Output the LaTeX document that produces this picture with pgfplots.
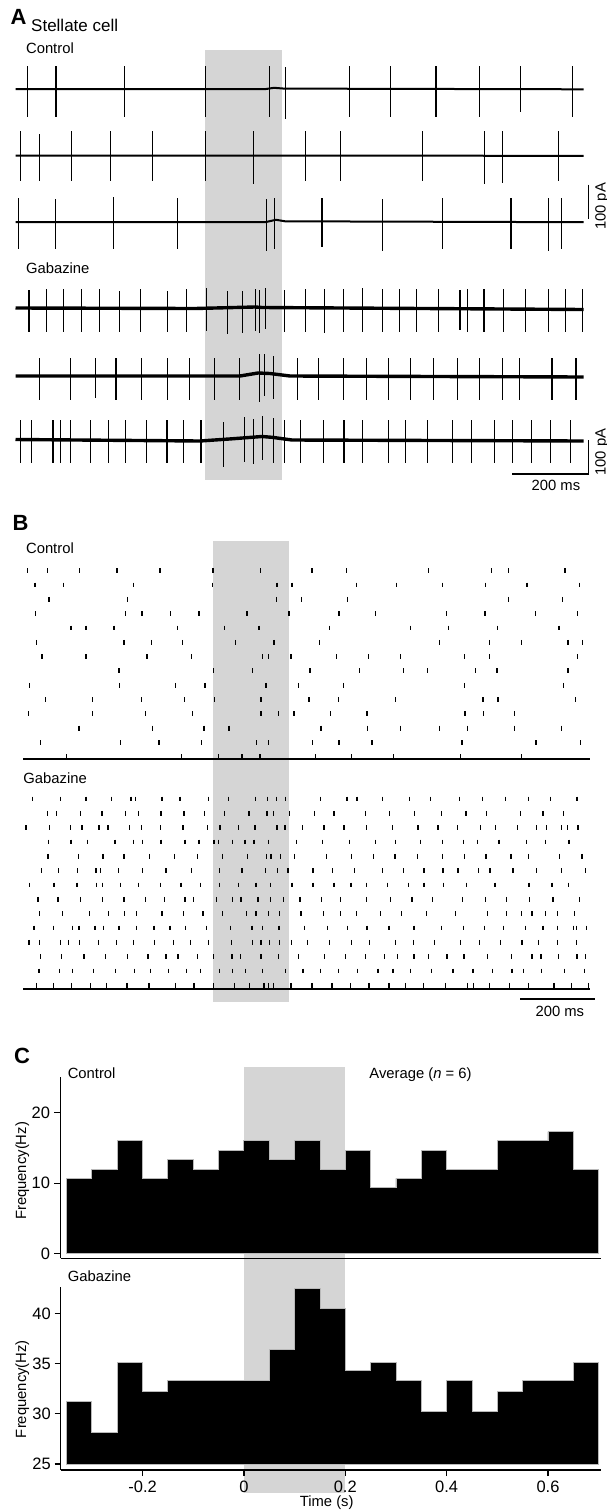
\documentclass[border=0pt]{standalone}
\usepackage{pgfplots}
\pgfplotsset{compat=1.18}
\usepackage{fontspec}
\setmainfont{Liberation Sans}
\definecolor{stimgray}{gray}{0.835}
\newcommand{\lab}{\fontsize{14.8}{17}\selectfont}
\newcommand{\tlab}{\fontsize{16.5}{18}\selectfont}
\pgfplotsset{
  spikes/.style={draw=none, mark=none,
    error bars/y dir=both, error bars/y explicit, error bars/error mark=none,
    error bars/error bar style={draw=black, line width=1.1pt}},
  rast/.style={only marks, mark=|, mark size=2.4pt, black, mark options={line width=1.25pt}},
}
\begin{document}
\begin{tikzpicture}
\useasboundingbox (0pt,0pt) rectangle (606pt,-1510pt);
% light-stimulus shading
\fill[stimgray] (204.9pt,-50pt) rectangle (282.2pt,-480pt);
\fill[stimgray] (212.7pt,-541pt) rectangle (289pt,-1002pt);
\fill[stimgray] (243.9pt,-1066.7pt) rectangle (345.2pt,-1493pt);

% ---------------- Panel A : traces ----------------
\begin{axis}[at={(15.5pt,-50pt)}, anchor=north west, scale only axis,
  width=568.2pt, height=430pt, xmin=15.5, xmax=583.7, ymin=-480, ymax=-50,
  hide axis, clip=false]
% baselines (control)
\addplot[black, line width=2pt] coordinates {(15.5,-89) (266,-89) (274,-87.8) (284,-88.6) (583.7,-89.3)};
\addplot[black, line width=2pt] coordinates {(15.5,-155.5) (583.7,-155.8)};
\addplot[black, line width=2pt] coordinates {(15.5,-222) (266,-222) (276,-219.8) (285,-221.3) (583.7,-222.2)};
% baselines (gabazine)
\addplot[black, line width=3.4pt] coordinates {(15.5,-308) (195,-308.5) (255,-307) (262,-307.5) (583.7,-309.5)};
\addplot[black, line width=3.4pt] coordinates {(15.5,-376) (240,-376) (258,-373) (270,-373.5) (290,-376) (583.7,-377)};
\addplot[black, line width=3.4pt] coordinates {(15.5,-439.5) (200,-441) (232,-438.8) (262,-436.5) (272,-437.3) (292,-440) (583.7,-441)};
% spikes: time(px)  baseline  up  down
\addplot[spikes] table[x=t, y=b, y error plus=u, y error minus=d] {
t b u d
27.1 -89 23.5 28
56.0 -89 23.5 28
124.9 -89 23.5 28
205.3 -89 23.5 28
269.4 -89 23.5 28
285.3 -89 22 29.5
349.8 -89 23.5 28
390.4 -89 23.5 28
436.0 -89 23.5 28
479.3 -89 23.5 28
520.3 -89 23 23
572.9 -89 23.5 28
};
\addplot[spikes] table[x=t, y=b, y error plus=u, y error minus=d] {
t b u d
20.1 -155.5 25 25
39.4 -155.5 22 25
71.5 -155.5 25 25
110.2 -155.5 25 25
152.7 -155.5 25 25
205.6 -155.5 25 25
253.2 -155.5 25 28
305.4 -155.5 25 25
340.2 -155.5 25 25
422.5 -155.5 25 25
484.3 -155.5 25 28
502.5 -155.5 25 27
558.6 -155.5 25 25
};
\addplot[spikes] table[x=t, y=b, y error plus=u, y error minus=d] {
t b u d
18.2 -222 24 27
55.3 -222 23 27
113.3 -222 25 27
177.4 -222 24 27
266.3 -222 23 29
274.4 -222 24 27
322.0 -222 24 25
382.7 -222 23 29
442.6 -222 24 27
511.0 -222 24 27
548.5 -222 24 29
561.7 -222 24 27
};
\addplot[spikes] table[x=t, y=b, y error plus=u, y error minus=d] {
t b u d
29.0 -308.5 19 23
46.4 -308.5 20 23
63.8 -308.5 20 23
81.9 -308.5 20 23
99.7 -308.5 20 23
119.8 -308.5 18 23
140.3 -308.5 20 23
167.4 -308.5 18 23
186.7 -308.5 20 23
206.8 -308.5 21 22
227.3 -308.5 18 25
242.8 -308.5 18 24
255.5 -308.5 20 22
259.8 -308.5 19 24
265.9 -308.5 21 20
284.1 -308.5 19 23
305.4 -308.5 20 23
324.7 -308.5 20 24
343.3 -308.5 20 23
362.2 -308.5 21 23
382.7 -308.5 20 23
399.3 -308.5 20 23
416.7 -308.5 20 23
438.7 -308.5 20 23
460.0 -308.5 19 21
467.7 -308.5 20 23
484.0 -308.5 20 23
503.3 -308.5 20 23
525.7 -308.5 20 23
548.1 -308.5 20 23
565.5 -308.5 20 23
582.5 -308.5 20 23
};
\addplot[spikes] table[x=t, y=b, y error plus=u, y error minus=d] {
t b u d
39.8 -376 18.5 24
70.7 -376 18.5 24
95.5 -376 18.5 22
116.0 -376 18.5 24
141.9 -376 18.5 24
167.4 -376 18.5 24
189.4 -376 18.5 24
214.5 -376 18.5 24
239.7 -376 18.5 24
259.8 -376 22 26
264.8 -376 22 20
273.7 -376 20 23
297.6 -376 18.5 24
318.9 -376 18.5 24
343.3 -376 18.5 24
366.1 -376 18.5 24
388.5 -376 18.5 24
410.5 -376 18.5 24
433.7 -376 18.5 24
457.3 -376 18.5 24
479.3 -376 18.5 24
502.5 -376 18.5 24
519.9 -376 18.5 24
552.0 -376 18.5 24
576.0 -376 18.5 24
};
\addplot[spikes] table[x=t, y=b, y error plus=u, y error minus=d] {
t b u d
20.1 -440 20 22.7
31.7 -440 20 22.7
53.0 -440 20 22.7
60.7 -440 20 22.7
70.7 -440 20 22.7
90.1 -440 20 22.7
108.2 -440 20 22.7
125.6 -440 20 22.7
146.9 -440 20 22.7
167.0 -440 20 22.7
183.2 -440 20 22.7
201.0 -440 20 22.7
223.4 -440 18 27
244.3 -440 23 22
253.2 -440 21 24
262.9 -440 24 20
273.3 -440 22 22.7
284.1 -440 20 22.7
300.7 -440 20 22.7
323.9 -440 20 22.7
344.0 -440 20 22.7
362.2 -440 20 22.7
388.5 -440 20 22.7
405.9 -440 20 22.7
427.1 -440 20 22.7
452.3 -440 20 22.7
471.6 -440 20 22.7
494.8 -440 20 22.7
512.9 -440 20 22.7
531.5 -440 20 22.7
550.8 -440 20 22.7
570.2 -440 20 22.7
};
\end{axis}
% scale bars A
\draw[line width=1.4pt] (588.5pt,-184.5pt) -- (588.5pt,-218.5pt);
\draw[line width=1.4pt] (512.2pt,-474pt) -- (588.5pt,-474pt) -- (588.5pt,-440pt);

% ---------------- Panel B : rasters ----------------
\begin{axis}[at={(23.3pt,-556.4pt)}, anchor=north west, scale only axis,
  width=566.4pt, height=202.9pt, xmin=23.3, xmax=589.7, ymin=-14.18, ymax=0,
  axis x line*=bottom, axis y line=none, xtick=\empty, ytick=\empty,
  axis line style={line width=1.8pt,-}, clip=false]
\addplot[rast] coordinates {(27.7,-1) (47.3,-1) (79.3,-1) (117,-1) (160,-1) (213,-1) (260.3,-1) (312,-1) (346.7,-1) (428.7,-1) (491.3,-1) (508.7,-1) (565,-1)};
\addplot[rast] coordinates {(35,-2) (63.3,-2) (133.3,-2) (212.7,-2) (277,-2) (292,-2) (356.7,-2) (396.7,-2) (442.3,-2) (485.3,-2) (527,-2) (579.3,-2)};
\addplot[rast] coordinates {(49,-3) (127.7,-3) (276.3,-3) (301.7,-3) (347.3,-3) (508.7,-3) (562.3,-3)};
\addplot[rast] coordinates {(35.7,-4) (125.3,-4) (142,-4) (170.7,-4) (199,-4) (247,-4) (289,-4) (339,-4) (375.3,-4) (446.7,-4) (485,-4) (535.3,-4) (577.3,-4)};
\addplot[rast] coordinates {(71,-5) (86,-5) (114,-5) (177.3,-5) (224.3,-5) (259,-5) (329.7,-5) (410.3,-5) (448.3,-5) (497.7,-5) (559,-5)};
\addplot[rast] coordinates {(36.7,-6) (124,-6) (151.7,-6) (182.7,-6) (235.7,-6) (274,-6) (319.3,-6) (439.7,-6) (489.7,-6) (521.7,-6) (568,-6) (582.3,-6)};
\addplot[rast] coordinates {(42,-7) (86,-7) (147,-7) (191.7,-7) (262.3,-7) (268.7,-7) (291,-7) (336.7,-7) (368.3,-7) (400.7,-7) (464.3,-7) (489.7,-7) (577.3,-7)};
\addplot[rast] coordinates {(119,-8) (213.3,-8) (252.7,-8) (310,-8) (359.7,-8) (403.3,-8) (427.7,-8) (475.3,-8) (497,-8) (568,-8)};
\addplot[rast] coordinates {(29.7,-9) (119.7,-9) (175.3,-9) (205,-9) (266,-9) (298.3,-9) (343.3,-9) (464.3,-9) (563.7,-9)};
\addplot[rast] coordinates {(45.3,-10) (92.7,-10) (141.7,-10) (184.3,-10) (214.7,-10) (261,-10) (309,-10) (338.7,-10) (395.7,-10) (483,-10) (498,-10) (575.3,-10)};
\addplot[rast] coordinates {(28.7,-11) (92.3,-11) (145.3,-11) (192.7,-11) (261,-11) (278.3,-11) (294,-11) (330.7,-11) (367,-11) (465,-11) (483.3,-11) (514.3,-11)};
\addplot[rast] coordinates {(79,-12) (152.3,-12) (204,-12) (229,-12) (321,-12) (367.3,-12) (400.7,-12) (439.7,-12) (467.7,-12) (514.3,-12) (561.7,-12)};
\addplot[rast] coordinates {(40.3,-13) (120.7,-13) (159,-13) (201.3,-13) (256.3,-13) (268.3,-13) (312.3,-13) (339,-13) (372,-13) (462,-13) (536,-13) (580.3,-13)};
\addplot[rast] coordinates {(66.7,-14) (181.7,-14) (218.3,-14) (242,-14) (260,-14) (315.7,-14) (351.7,-14) (393.7,-14) (460.7,-14) (521.7,-14)};
\end{axis}

\begin{axis}[at={(23.3pt,-784.7pt)}, anchor=north west, scale only axis,
  width=566.4pt, height=204.6pt, xmin=23.3, xmax=589.7, ymin=-14.28, ymax=0,
  axis x line*=bottom, axis y line=none, xtick=\empty, ytick=\empty,
  axis line style={line width=1.8pt,-}, clip=false]
\addplot[rast] coordinates {(32.7,-1) (60.3,-1) (86,-1) (111.7,-1) (131,-1) (135.3,-1) (162,-1) (180,-1) (208.7,-1) (228.7,-1) (255.7,-1) (267.3,-1) (276.3,-1) (285.7,-1) (320.3,-1) (347,-1) (357,-1) (382.3,-1) (409.7,-1) (430.7,-1) (459.7,-1) (482.3,-1) (505.7,-1) (528.3,-1) (550.3,-1) (577,-1)};
\addplot[rast] coordinates {(47.7,-2) (56.7,-2) (80.3,-2) (102,-2) (125.7,-2) (138.3,-2) (161,-2) (184,-2) (204.7,-2) (224.3,-2) (249,-2) (267,-2) (273.3,-2) (289.3,-2) (314.7,-2) (334,-2) (365.7,-2) (389.7,-2) (414.7,-2) (441.7,-2) (466,-2) (486.3,-2) (520.3,-2) (543,-2) (563.7,-2)};
\addplot[rast] coordinates {(26,-3) (49.3,-3) (70.3,-3) (82,-3) (99,-3) (108,-3) (129.3,-3) (141.7,-3) (160.7,-3) (183,-3) (207.3,-3) (220,-3) (238.7,-3) (255,-3) (277,-3) (285,-3) (302.3,-3) (324,-3) (344,-3) (366.7,-3) (392.3,-3) (418,-3) (438,-3) (457.3,-3) (480.7,-3) (495.7,-3) (517.3,-3) (536.3,-3) (546.3,-3) (561.3,-3) (567.3,-3) (578,-3)};
\addplot[rast] coordinates {(48.7,-4) (71,-4) (87.7,-4) (115,-4) (133.7,-4) (142.7,-4) (161,-4) (185,-4) (199,-4) (214,-4) (218.3,-4) (232.7,-4) (245,-4) (254,-4) (268.7,-4) (296.7,-4) (322.3,-4) (349.7,-4) (375.7,-4) (395.7,-4) (420.3,-4) (442.3,-4) (463.3,-4) (477.7,-4) (499,-4) (526.7,-4) (545.7,-4) (569,-4)};
\addplot[rast] coordinates {(48,-5) (78.7,-5) (103,-5) (124,-5) (149.7,-5) (174.3,-5) (197.7,-5) (222.7,-5) (247.7,-5) (266.7,-5) (271,-5) (280.7,-5) (294.3,-5) (326.3,-5) (351.7,-5) (373.3,-5) (395,-5) (417.3,-5) (442.3,-5) (464.3,-5) (486,-5) (511,-5) (528.3,-5) (559.3,-5) (582,-5)};
\addplot[rast] coordinates {(41.7,-6) (58.7,-6) (77.7,-6) (96,-6) (100.3,-6) (118.7,-6) (142.3,-6) (166,-6) (191.7,-6) (219.7,-6) (242,-6) (265.7,-6) (277.7,-6) (288,-6) (313,-6) (332.7,-6) (354.7,-6) (382.3,-6) (403.7,-6) (424,-6) (443,-6) (458,-6) (478.7,-6) (490,-6) (513,-6) (536.3,-6) (561.3,-6) (585.7,-6)};
\addplot[rast] coordinates {(29.3,-7) (54,-7) (77,-7) (96.7,-7) (102.3,-7) (120.7,-7) (138.3,-7) (160.7,-7) (181,-7) (200.7,-7) (219.3,-7) (238.7,-7) (256,-7) (270.3,-7) (292,-7) (313,-7) (334,-7) (351,-7) (366.3,-7) (387.3,-7) (408.3,-7) (424,-7) (443.3,-7) (466.7,-7) (495,-7) (529,-7) (552,-7) (568.7,-7)};
\addplot[rast] coordinates {(38,-8) (58,-8) (80.3,-8) (102.3,-8) (124,-8) (145.3,-8) (164.3,-8) (185,-8) (193.3,-8) (216.7,-8) (232.3,-8) (241,-8) (258,-8) (270.7,-8) (283.3,-8) (300,-8) (321.3,-8) (340.7,-8) (366.3,-8) (390.7,-8) (412,-8) (432.3,-8) (462.7,-8) (485.7,-8) (506.3,-8) (529.3,-8) (553,-8) (579.3,-8)};
\addplot[rast] coordinates {(39.7,-9) (62.7,-9) (89.3,-9) (108.3,-9) (124.7,-9) (136.7,-9) (162,-9) (183.3,-9) (203,-9) (222.7,-9) (246.7,-9) (256,-9) (268.3,-9) (279.3,-9) (301,-9) (323.7,-9) (340.3,-9) (356.3,-9) (380.3,-9) (401.3,-9) (426.7,-9) (455.3,-9) (487.3,-9) (506.3,-9) (521.3,-9) (532,-9) (545.3,-9) (557.3,-9) (574.7,-9)};
\addplot[rast] coordinates {(34,-10) (53.3,-10) (72.3,-10) (79,-10) (95,-10) (103.7,-10) (119,-10) (136.3,-10) (154,-10) (170,-10) (185.7,-10) (206.3,-10) (230.3,-10) (252,-10) (262.3,-10) (279,-10) (304.7,-10) (327.3,-10) (347.3,-10) (367,-10) (389,-10) (414,-10) (441.7,-10) (463.3,-10) (484.3,-10) (503.7,-10) (525.3,-10) (543,-10) (557.3,-10) (573.7,-10) (576.3,-10) (586.3,-10)};
\addplot[rast] coordinates {(29,-11) (39.7,-11) (60.3,-11) (68.7,-11) (79.3,-11) (98.7,-11) (116.7,-11) (133.7,-11) (154.3,-11) (173.7,-11) (190.3,-11) (208.3,-11) (231.3,-11) (252.3,-11) (261,-11) (269.7,-11) (279.3,-11) (291.7,-11) (307.7,-11) (329.7,-11) (351.3,-11) (369.7,-11) (395.3,-11) (413.3,-11) (434.7,-11) (460.7,-11) (479.7,-11) (500.7,-11) (522,-11) (538.7,-11) (557.3,-11) (576.3,-11)};
\addplot[rast] coordinates {(40.7,-12) (61.3,-12) (84,-12) (105.3,-12) (127.3,-12) (148,-12) (166,-12) (178,-12) (197.7,-12) (213.7,-12) (232,-12) (240.7,-12) (261,-12) (278.3,-12) (298.7,-12) (324.3,-12) (345.7,-12) (365.7,-12) (384.7,-12) (397.7,-12) (414,-12) (428.7,-12) (447,-12) (464,-12) (487.3,-12) (511.3,-12) (532,-12) (541,-12) (558.3,-12) (577,-12) (585.7,-12)};
\addplot[rast] coordinates {(39,-13) (59.3,-13) (72.3,-13) (93.3,-13) (115.7,-13) (134.3,-13) (150.3,-13) (168.3,-13) (186.7,-13) (200.7,-13) (219.7,-13) (232.3,-13) (245.3,-13) (262.3,-13) (285.7,-13) (303,-13) (320.3,-13) (338.3,-13) (357.3,-13) (378,-13) (393,-13) (410.7,-13) (431.7,-13) (453,-13) (473,-13) (492.3,-13) (512,-13) (523.7,-13) (541.7,-13) (564.7,-13) (584.7,-13)};
\addplot[rast] coordinates {(36.3,-14) (53.7,-14) (71.3,-14) (90.3,-14) (106.3,-14) (127,-14) (149,-14) (175.7,-14) (194,-14) (213.3,-14) (234.7,-14) (249.7,-14) (264,-14) (268.7,-14) (273.7,-14) (291,-14) (312,-14) (332,-14) (350.7,-14) (369,-14) (389,-14) (405.3,-14) (423.7,-14) (445.7,-14) (467.7,-14) (473.3,-14) (489.7,-14) (509.7,-14) (528.3,-14) (554,-14) (571.3,-14) (588.7,-14)};
\end{axis}
\draw[line width=1.4pt] (520pt,-999pt) -- (595.3pt,-999pt);

% ---------------- Panel C : histograms ----------------
\begin{axis}[at={(60.7pt,-1076.7pt)}, anchor=north west, scale only axis,
  width=540.3pt, height=181.6pt, xmin=-0.3616, xmax=0.7046, ymin=-0.65, ymax=25.1,
  axis x line*=bottom, axis y line*=left, axis line style={line width=1.3pt,-},
  tick align=outside, major tick length=6.6pt, tick style={line width=1.2pt, black},
  xtick=\empty, ytick={0,10,20}, yticklabels={0,10,20},
  yticklabel style={font=\tlab, anchor=east, inner sep=0pt, xshift=-3.8pt},
  ylabel={Frequency(Hz)},
  ylabel style={font=\lab, at={(axis description cs:-0.064,0.481)}, anchor=base}]
\addplot[const plot, fill=black, draw=gray!55, line width=0.9pt] coordinates {
(-0.35,0) (-0.35,10.67) (-0.30,12) (-0.25,16) (-0.20,10.67) (-0.15,13.33) (-0.10,12)
(-0.05,14.67) (0,16) (0.05,13.33) (0.10,16) (0.15,12) (0.20,14.67) (0.25,9.33)
(0.30,10.67) (0.35,14.67) (0.40,12) (0.45,12) (0.50,16) (0.55,16) (0.60,17.33)
(0.65,12) (0.70,12) (0.70,0)} -- cycle;
\end{axis}

\begin{axis}[at={(60.7pt,-1287.3pt)}, anchor=north west, scale only axis,
  width=540.3pt, height=182.7pt, xmin=-0.3616, xmax=0.7046, ymin=24.4, ymax=42.6,
  axis x line*=bottom, axis y line*=left, axis line style={line width=1.3pt,-},
  tick align=outside, major tick length=6pt, tick style={line width=1.2pt, black},
  xtick={-0.2,0,0.2,0.4,0.6}, xticklabels={-0.2,0,0.2,0.4,0.6},
  ytick={25,30,35,40}, yticklabels={25,30,35,40},
  yticklabel style={font=\tlab, anchor=east, inner sep=0pt, xshift=-3.8pt},
  xticklabel style={font=\tlab, anchor=base, inner sep=0pt, yshift=-16.5pt},
  xlabel={Time (s)},
  xlabel style={font=\lab, at={(axis description cs:0.4923,0)}, anchor=base, yshift=-36pt},
  ylabel={Frequency(Hz)},
  ylabel style={font=\lab, at={(axis description cs:-0.064,0.443)}, anchor=base}]
\addplot[const plot, fill=black, draw=gray!55, line width=0.9pt] coordinates {
(-0.35,25) (-0.35,31.2) (-0.30,28.1) (-0.25,35.1) (-0.20,32.2) (-0.15,33.3) (-0.10,33.3)
(-0.05,33.3) (0,33.3) (0.05,36.4) (0.10,42.5) (0.15,40.5) (0.20,34.3) (0.25,35.1)
(0.30,33.3) (0.35,30.2) (0.40,33.3) (0.45,30.2) (0.50,32.2) (0.55,33.3) (0.60,33.3)
(0.65,35.1) (0.70,35.1) (0.70,25)} -- cycle;
\end{axis}

% ---------------- text ----------------
\node[font=\bfseries\fontsize{22}{23}\selectfont, anchor=base west, inner sep=0pt] at (10.5pt,-24pt) {A};
\node[font=\bfseries\fontsize{22}{23}\selectfont, anchor=base west, inner sep=0pt] at (12.5pt,-530pt) {B};
\node[font=\bfseries\fontsize{22}{23}\selectfont, anchor=base west, inner sep=0pt] at (14pt,-1063.3pt) {C};
\node[font=\fontsize{17}{19}\selectfont, anchor=base west, inner sep=0pt] at (31pt,-31.7pt) {Stellate cell};
\node[font=\lab, anchor=base west, inner sep=0pt] at (25.9pt,-53.3pt) {Control};
\node[font=\lab, anchor=base west, inner sep=0pt] at (25.9pt,-273.3pt) {Gabazine};
\node[font=\lab, anchor=base west, inner sep=0pt] at (25.9pt,-553pt) {Control};
\node[font=\lab, anchor=base west, inner sep=0pt] at (23.2pt,-783.3pt) {Gabazine};
\node[font=\lab, anchor=base west, inner sep=0pt] at (67.6pt,-1078.3pt) {Control};
\node[font=\lab, anchor=base west, inner sep=0pt] at (369.2pt,-1078.3pt) {Average (\textit{n} = 6)};
\node[font=\lab, anchor=base west, inner sep=0pt] at (67.6pt,-1281.7pt) {Gabazine};
\node[font=\lab, anchor=base west, inner sep=0pt] at (531.5pt,-490.7pt) {200 ms};
\node[font=\lab, anchor=base west, inner sep=0pt] at (535.4pt,-1016.5pt) {200 ms};
\node[font=\lab, anchor=base, inner sep=0pt, rotate=90] at (605.5pt,-206.5pt) {100 pA};
\node[font=\lab, anchor=base, inner sep=0pt, rotate=90] at (605.5pt,-452pt) {100 pA};
\end{tikzpicture}
\end{document}
